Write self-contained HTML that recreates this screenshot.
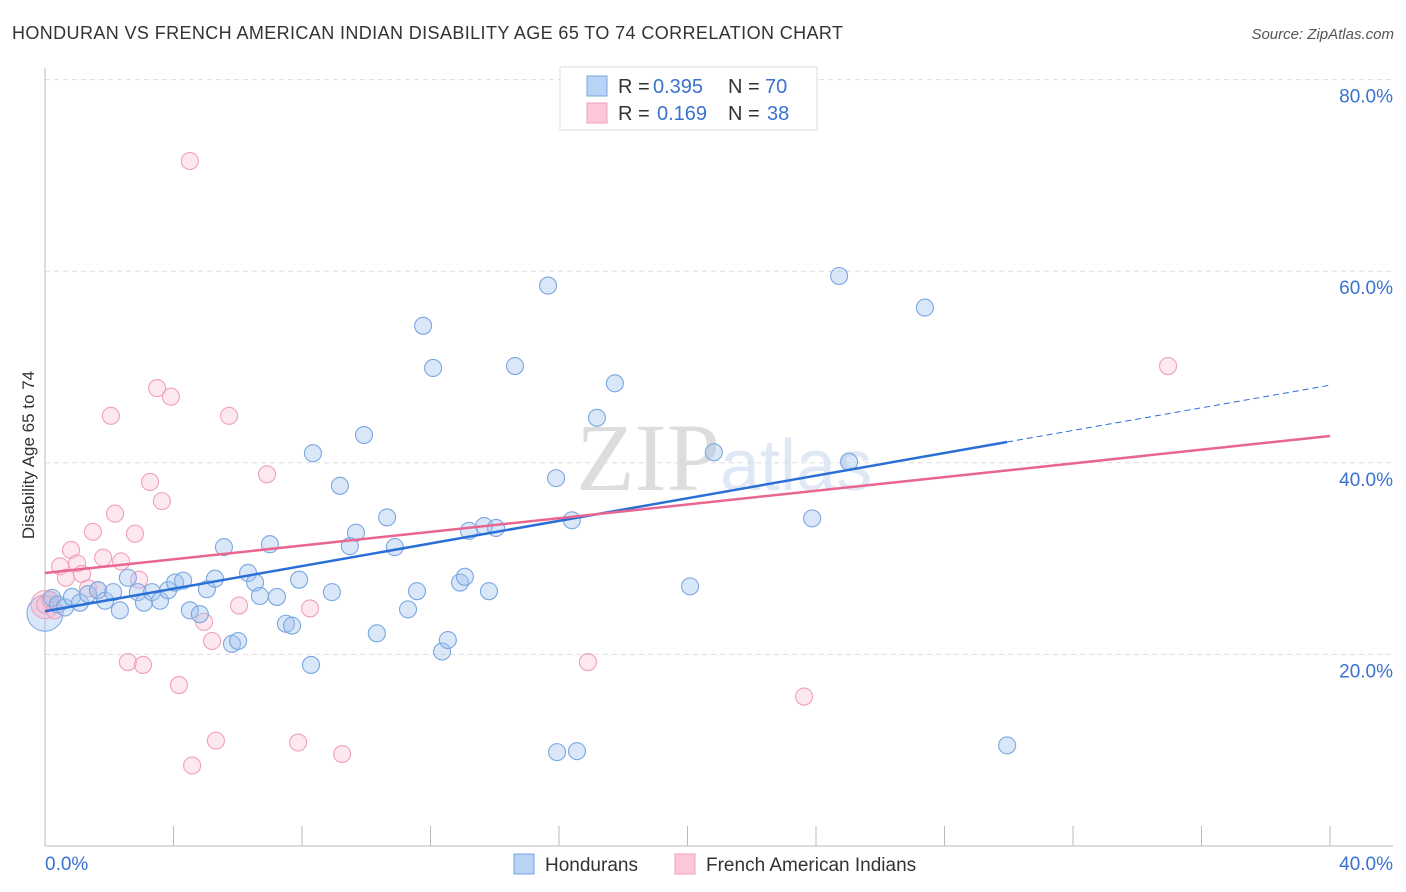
<!DOCTYPE html>
<html><head><meta charset="utf-8"><style>
body{margin:0;background:#fff;font-family:"Liberation Sans",sans-serif;}
svg{display:block}
</style></head><body>
<svg id="chart" width="1406" height="892" xmlns="http://www.w3.org/2000/svg">
<text x="12" y="39" font-size="18" fill="#333" textLength="831">HONDURAN VS FRENCH AMERICAN INDIAN DISABILITY AGE 65 TO 74 CORRELATION CHART</text>
<text x="1394" y="39" font-size="15" fill="#555" font-style="italic" text-anchor="end">Source: ZipAtlas.com</text>
<text x="34" y="455" font-size="17" fill="#333" text-anchor="middle" transform="rotate(-90 34 455)">Disability Age 65 to 74</text>
<text x="720" y="490" font-size="96" fill="#ddd" text-anchor="end" font-family="Liberation Serif,serif">ZIP</text>
<text x="720" y="490" font-size="72" fill="#dfe8f4">atlas</text>
<g id="grid"></g><g id="pts"></g><g id="lines"></g>
<g>
<rect x="560" y="67" width="257" height="63" fill="#fff" stroke="#ddd"/>
<rect x="587" y="76" width="20" height="20" fill="#b8d3f5" stroke="#7aa7e0"/>
<rect x="587" y="103" width="20" height="20" fill="#fcc8d8" stroke="#f0a0bb"/>
<text y="93" font-size="20" fill="#333"><tspan x="618">R =</tspan><tspan x="653" fill="#3a72d0">0.395</tspan><tspan x="728">N =</tspan><tspan x="765" fill="#3a72d0">70</tspan></text>
<text y="120" font-size="20" fill="#333"><tspan x="618">R =</tspan><tspan x="657" fill="#3a72d0">0.169</tspan><tspan x="728">N =</tspan><tspan x="767" fill="#3a72d0">38</tspan></text>
</g>
<g>
<rect x="514" y="854" width="20" height="20" fill="#b8d3f5" stroke="#7aa7e0"/>
<text x="545" y="871" font-size="19" fill="#333">Hondurans</text>
<rect x="675" y="854" width="20" height="20" fill="#fcc8d8" stroke="#f0a0bb"/>
<text x="706" y="871" font-size="19" fill="#333">French American Indians</text>
</g>
</svg>
<script>
const yTicks=[20,40,60,80];
const yTickLabels=["20.0%","40.0%","60.0%","80.0%"];
const xTickLabels=["0.0%","40.0%"];
const hondX=[0.22,0.40,0.62,0.84,1.09,1.34,1.65,1.87,2.12,2.33,2.58,2.89,3.08,3.33,3.58,3.83,4.05,4.30,4.51,4.82,5.04,5.29,5.57,5.82,6.01,6.32,6.54,6.69,7.00,7.22,7.50,7.69,7.91,8.34,8.28,8.93,9.18,9.49,9.68,9.93,10.33,10.65,10.89,11.30,11.58,11.77,12.08,12.36,12.54,12.92,13.07,13.20,13.67,13.82,14.04,14.63,15.66,15.91,15.94,16.40,16.56,17.18,17.74,20.08,20.82,23.88,24.72,25.03,27.39,29.95];
const hondY=[25.9,25.2,24.9,26.0,25.4,26.3,26.7,25.6,26.5,24.6,28.0,26.5,25.4,26.5,25.6,26.7,27.5,27.7,24.6,24.2,26.8,27.9,31.2,21.1,21.4,28.5,27.5,26.1,31.5,26.0,23.2,23.0,27.8,41.0,18.9,26.5,37.6,31.3,32.7,42.9,22.2,34.3,31.2,24.7,26.6,54.3,49.9,20.3,21.5,27.5,28.1,32.9,33.4,26.6,33.2,50.1,58.5,38.4,9.8,34.0,9.9,44.7,48.3,27.1,41.1,34.2,59.5,40.1,56.2,10.5];
const frX=[0,0.16,0.31,0.47,0.65,0.81,1.00,1.15,1.34,1.49,1.65,1.81,2.05,2.18,2.37,2.58,2.80,2.93,3.05,3.27,3.49,3.64,3.92,4.17,4.51,4.58,4.95,5.20,5.32,5.73,6.04,6.91,7.88,8.25,9.25,16.90,23.63,34.96];
const frY=[25.2,25.7,24.6,29.2,28.0,30.9,29.5,28.4,26.9,32.8,26.7,30.1,44.9,34.7,29.7,19.2,32.6,27.8,18.9,38.0,47.8,36.0,46.9,16.8,71.5,8.4,23.4,21.4,11.0,44.9,25.1,38.8,10.8,24.8,9.6,19.2,15.6,50.1];
// trend line values at x=0% and x=40%
const hondTrend=[24.5,48.1];
const frTrend=[28.5,42.8];
const NS="http://www.w3.org/2000/svg";
const xs=v=>45+v*32.125, ys=v=>846-v*9.58;
function mk(t,a,p){const e=document.createElementNS(NS,t);for(const k in a)e.setAttribute(k,a[k]);p.appendChild(e);return e;}
const grid=document.getElementById('grid');
yTicks.forEach((t,i)=>{
 const l=mk('line',{x1:45,x2:1393,y1:ys(t),y2:ys(t),stroke:'#ddd','stroke-dasharray':'5,4'},grid);
 
 
 const tx=mk('text',{x:1393,y:ys(t)+23,'font-size':19,fill:'#3a72d0','text-anchor':'end'},grid);
 tx.textContent=yTickLabels[i];
 
 
});
mk('line',{x1:45,x2:45,y1:68,y2:846,stroke:'#bbb'},grid);
mk('line',{x1:45,x2:1393,y1:846,y2:846,stroke:'#bbb'},grid);
for(let i=1;i<=10;i++){mk('line',{x1:xs(i*4),x2:xs(i*4),y1:826,y2:846,stroke:'#bbb'},grid);}
[[0,'start',45],[1,'end',1393]].forEach(([i,a,x])=>{const tx=mk('text',{x:x,y:870,'font-size':19,fill:'#3a72d0','text-anchor':a},grid);tx.textContent=xTickLabels[i];
 
 });
const pts=document.getElementById('pts');
let c=mk('circle',{cx:xs(0),cy:ys(24.3),r:18,fill:'rgba(160,196,240,0.4)',stroke:'#7aa7e0'},pts);


c=mk('circle',{cx:xs(0),cy:ys(25.2),r:14,fill:'rgba(248,180,205,0.4)',stroke:'#f0a0bb'},pts);


frX.forEach((x,i)=>{const e=mk('circle',{cx:xs(x),cy:ys(frY[i]),r:8.5,fill:'rgba(248,190,210,0.35)',stroke:'#f0a0bb','stroke-width':1.1},pts);
 
 });
hondX.forEach((x,i)=>{const e=mk('circle',{cx:xs(x),cy:ys(hondY[i]),r:8.5,fill:'rgba(160,196,240,0.4)',stroke:'#7aa7e0','stroke-width':1.1},pts);
 
 });
const lines=document.getElementById('lines');
const hv=x=>hondTrend[0]+(hondTrend[1]-hondTrend[0])*x/40;
const fv=x=>frTrend[0]+(frTrend[1]-frTrend[0])*x/40;
const xmax=Math.max(...hondX);
let l=mk('line',{x1:xs(0),y1:ys(hv(0)),x2:xs(xmax),y2:ys(hv(xmax)),stroke:'#2a6fd6','stroke-width':2.5},lines);


l=mk('line',{x1:xs(xmax),y1:ys(hv(xmax)),x2:xs(40),y2:ys(hv(40)),stroke:'#2a6fd6','stroke-width':1,'stroke-dasharray':'6,4'},lines);


l=mk('line',{x1:xs(0),y1:ys(fv(0)),x2:xs(40),y2:ys(fv(40)),stroke:'#e8668f','stroke-width':2.5},lines);


</script>
</body></html>
